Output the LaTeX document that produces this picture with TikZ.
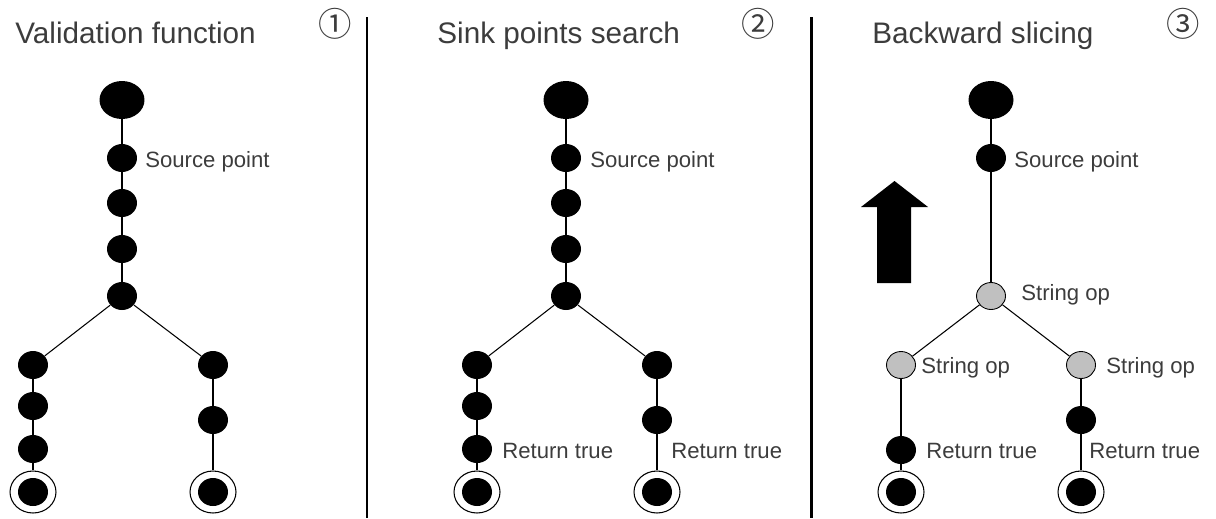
\documentclass[tikz,border=0pt]{standalone}
\usepackage{fontspec}
\setmainfont{Liberation Sans}
\newfontfamily\numfont{Noto Sans CJK SC}
\usepackage{tikz}
\usetikzlibrary{shapes.geometric}
\definecolor{opgray}{HTML}{C0C0C0}
\definecolor{txtgray}{HTML}{3C3C3C}

\begin{document}
\begin{tikzpicture}[
    x=0.02cm, y=-0.02cm,
    root/.style={ellipse, fill=black, minimum width=0.9cm, minimum height=0.76cm, inner sep=0pt},
    stmt/.style={ellipse, fill=black, minimum width=0.6cm, minimum height=0.56cm, inner sep=0pt},
    strop/.style={ellipse, draw=black, line width=0.5pt, fill=opgray,
        minimum width=0.58cm, minimum height=0.54cm, inner sep=0pt},
    sink/.style={ellipse, draw=black, line width=0.6pt, fill=white,
        minimum width=0.92cm, minimum height=0.84cm, inner sep=0pt,
        path picture={\fill[black] (path picture bounding box.center) ellipse (0.3cm and 0.28cm);}},
    tag/.style={anchor=base west, inner sep=0pt, font=\fontsize{12.6}{15}\selectfont, text=txtgray},
    heading/.style={anchor=base west, inner sep=0pt, font=\fontsize{16.9}{20}\selectfont, text=txtgray},
    stepnum/.style={inner sep=0pt, font=\numfont\fontsize{19}{22}\selectfont, text=txtgray},
    link/.style={line width=0.6pt, draw=black},
    divider/.style={line width=1.2pt, draw=black}
]
\useasboundingbox (0,0) rectangle (1216,518);

% --- Headings and step numbers ---
\node[heading] (h1) at (15, 43) {Validation function};
\node[heading] (h2) at (437, 43) {Sink points search};
\node[heading] (h3) at (872, 43) {Backward slicing};
\node[stepnum] (n1) at (335, 24) {①};
\node[stepnum] (n2) at (758, 24) {②};
\node[stepnum] (n3) at (1183, 24) {③};

% --- Dividers ---
\coordinate (d1t) at (367, 17);
\coordinate (d1b) at (367, 518);
\coordinate (d2t) at (811.5, 17);
\coordinate (d2b) at (811.5, 518);
\draw[divider] (d1t) -- (d1b);
\draw[divider] (d2t) -- (d2b);

% --- Panel 1 ---
\node[root] (p1top) at (122, 100) {};
\node[stmt] (p1src) at (122, 158) {};
\node[stmt] (p1a) at (122, 203) {};
\node[stmt] (p1b) at (122, 249) {};
\node[stmt] (p1fork) at (122, 296) {};
\node[stmt] (p1l1) at (33, 365) {};
\node[stmt] (p1l2) at (33, 406) {};
\node[stmt] (p1l3) at (33, 449) {};
\node[sink] (p1lsink) at (33, 492) {};
\node[stmt] (p1r1) at (213, 365) {};
\node[stmt] (p1r2) at (213, 420) {};
\node[sink] (p1rsink) at (213, 492) {};
\node[tag] (p1srclbl) at (145, 167) {Source point};

% --- Panel 2 ---
\node[root] (p2top) at (566, 100) {};
\node[stmt] (p2src) at (566, 158) {};
\node[stmt] (p2a) at (566, 203) {};
\node[stmt] (p2b) at (566, 249) {};
\node[stmt] (p2fork) at (566, 296) {};
\node[stmt] (p2l1) at (477, 365) {};
\node[stmt] (p2l2) at (477, 406) {};
\node[stmt] (p2l3) at (477, 449) {};
\node[sink] (p2lsink) at (477, 492) {};
\node[stmt] (p2r1) at (657, 365) {};
\node[stmt] (p2r2) at (657, 420) {};
\node[sink] (p2rsink) at (657, 492) {};
\node[tag] (p2srclbl) at (590, 167) {Source point};
\node[tag] (p2lret) at (502, 458) {Return true};
\node[tag] (p2rret) at (671, 458) {Return true};

% --- Panel 3 ---
\node[root] (p3top) at (991, 100) {};
\node[stmt] (p3src) at (991, 158) {};
\node[strop] (p3fork) at (991, 296) {};
\node[strop] (p3l1) at (901, 365) {};
\node[stmt] (p3l2) at (901, 450) {};
\node[sink] (p3lsink) at (901, 492) {};
\node[strop] (p3r1) at (1081, 365) {};
\node[stmt] (p3r2) at (1081, 420) {};
\node[sink] (p3rsink) at (1081, 492) {};
\node[tag] (p3srclbl) at (1014, 167) {Source point};
\node[tag] (p3forklbl) at (1021, 300) {String op};
\node[tag] (p3llbl) at (921, 373) {String op};
\node[tag] (p3rlbl) at (1106, 373) {String op};
\node[tag] (p3lret) at (926, 458) {Return true};
\node[tag] (p3rret) at (1089, 458) {Return true};

% big upward arrow
\fill[black] (877,283) -- (877,207) -- (861,207) -- (894.5,181) -- (928,207)
    -- (911,207) -- (911,283) -- cycle;

% --- Edges ---
\foreach \p in {p1, p2} {
    \foreach \a/\b in {top/src, src/a, a/b, b/fork, fork/l1, l1/l2, l2/l3, l3/lsink,
                       fork/r1, r1/r2, r2/rsink} {
        \draw[link] (\p\a) -- (\p\b);
    }
}
\foreach \a/\b in {top/src, src/fork, fork/l1, l1/l2, l2/lsink, fork/r1, r1/r2, r2/rsink} {
    \draw[link] (p3\a) -- (p3\b);
}

\end{tikzpicture}
\end{document}
